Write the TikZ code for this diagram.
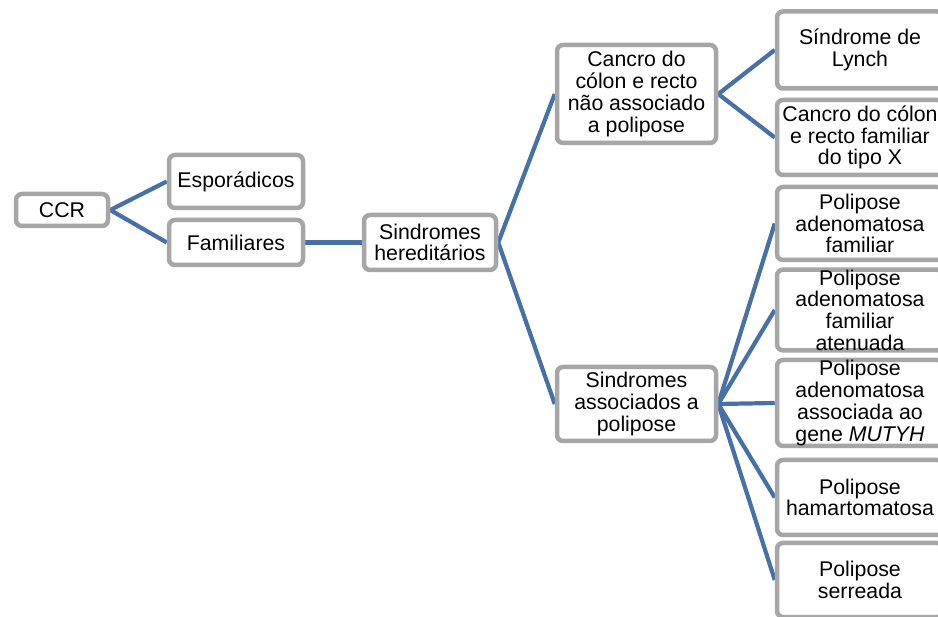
\documentclass[tikz,border=0pt]{standalone}
\usepackage{fontspec}
\setmainfont{Liberation Sans}
\usetikzlibrary{backgrounds}
\definecolor{boxgray}{RGB}{166,166,166}
\definecolor{linkblue}{RGB}{70,112,166}
\tikzset{
  tbox/.style={draw=boxgray, line width=4.5pt, rounded corners=6pt, fill=white,
    align=center, inner sep=0pt, font=\fontsize{21.3}{21.7}\selectfont},
  link/.style={draw=linkblue, line width=4.2pt}
}
\newcommand{\tnode}[6]{% name, cx, cy, w, h, text
  \node[tbox, minimum width=#4pt, minimum height=#5pt] (#1) at (#2,#3) {#6};}

\begin{document}
\begin{tikzpicture}[x=1pt,y=-1pt]
  \useasboundingbox (0,0) rectangle (938,617);
  % boxes
  \tnode{ccr}{62}{210}{92}{32}{CCR}
  \tnode{spor}{236}{181.5}{134}{53}{Esporádicos}
  \tnode{fam}{236}{242.5}{134}{45}{Familiares}
  \tnode{here}{430}{242.5}{132}{55}{Sindromes\\hereditários}
  \tnode{cnp}{636.5}{94}{159}{98}{Cancro do\\cólon e recto\\não associado\\a polipose}
  \tnode{sap}{636.5}{404}{159}{74}{Sindromes\\associados a\\polipose}
  \tnode{lynch}{860}{50}{166}{77}{Síndrome de\\Lynch}
  \tnode{fcx}{860}{137.5}{166}{75}{Cancro do cólon\\e recto familiar\\do tipo X}
  \tnode{paf}{860}{223.5}{166}{73}{Polipose\\adenomatosa\\familiar}
  \tnode{afap}{860}{310}{166}{72}{Polipose\\adenomatosa\\familiar\\atenuada}
  \tnode{mutyh}{860}{403}{166}{86}{Polipose\\adenomatosa\\associada ao\\gene \textit{MUTYH}}
  \tnode{hamart}{860}{497.5}{166}{75}{Polipose\\hamartomatosa}
  \tnode{serr}{860}{580}{166}{74}{Polipose\\serreada}
  % links
  \begin{scope}[on background layer]
    \draw[link] (ccr.east) -- (spor.west) (ccr.east) -- (fam.west);
    \draw[link] (fam.east) -- (here.west);
    \draw[link] (here.east) -- (cnp.west) (here.east) -- (sap.west);
    \draw[link] (cnp.east) -- (lynch.west) (cnp.east) -- (fcx.west);
    \foreach \n in {paf,afap,mutyh,hamart,serr}
      \draw[link] (sap.east) -- (\n.west);
  \end{scope}
\end{tikzpicture}
\end{document}
